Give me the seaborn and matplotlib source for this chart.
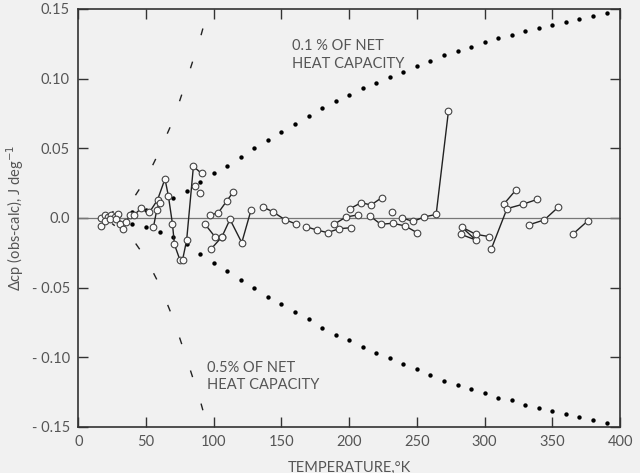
import matplotlib
matplotlib.use("Agg")
import matplotlib.pyplot as plt
import pandas as pd
import seaborn as sns

# Open circles: connected experimental runs (temperature K, delta Cp J/deg)
run_id = [1, 1, 1, 1, 1, 1,
          2, 2, 2, 2, 2, 2,
          3, 3, 3, 3, 3, 3, 3, 3, 3, 3, 3, 3, 3, 3, 3,
          4, 4, 4,
          5, 5, 5, 5,
          6, 6, 6, 6, 6, 6,
          7, 7,
          8, 8, 8, 8,
          9, 9, 9, 9, 9,
          10, 10, 10,
          11, 11, 11, 11,
          12, 12, 12, 12, 12,
          13, 13, 13, 13, 13,
          14, 14, 14, 14, 14,
          15, 15,
          16, 16, 16, 16,
          17, 17, 17,
          18, 18]
run_temp = [17, 19.5, 22, 24.5, 27, 29.5,
            17, 20, 23.5, 27.5, 31, 33,
            35.5, 38, 41, 46.5, 52.5, 58.5, 64, 66.5, 69.5, 71, 75, 77, 80, 85, 91,
            55.5, 58, 60,
            97.3, 103.4, 109.6, 114.5,
            93.6, 101, 106, 112, 120.7, 127.5,
            97.8, 106,
            136.2, 143.6, 152.5, 160.5,
            168, 176, 184, 192.5, 201.4,
            188.8, 197.7, 206.3,
            200.7, 208.8, 216.2, 224,
            215.4, 223.3, 232.2, 241.3, 250,
            239.3, 247.4, 255.3, 264.2, 273.3,
            282.4, 293.5,
            283, 293.5, 303.5, 314, 323,
            305, 316.5, 328, 339,
            332.4, 344, 354.5,
            365, 376]
run_dcp = [0.000, 0.002, 0.001, 0.002, 0.001, 0.003,
           -0.006, -0.002, -0.001, -0.001, -0.004, -0.008,
           -0.003, 0.002, 0.002, 0.007, 0.004, 0.013, 0.028, 0.016, -0.004, -0.019, -0.030, -0.030, -0.016, 0.037, 0.032,
           -0.0065, 0.006, 0.011,
           0.002, 0.0038, 0.0122, 0.0187,
           -0.0045, -0.0136, -0.0136, -0.001, -0.0177, 0.0055,
           -0.0225, -0.0136,
           0.0079, 0.0045, -0.0012, -0.0042,
           -0.0062, -0.0086, -0.0105, -0.0077, -0.007,
           -0.0045, 0.0007, 0.0022,
           0.0067, 0.011, 0.0093, 0.0146,
           0.0014, -0.0045, -0.0038, -0.0057, -0.0105,
           -0.0002, -0.0024, 0.0007, 0.0026, 0.0768,
           -0.0117, -0.0158,
           -0.0065, -0.0117, -0.0134, 0.0098, 0.020,
           -0.022, 0.0067, 0.0098, 0.0134,
           -0.005, -0.0014, 0.0079,
           -0.0117, -0.0022]

# Open circles not joined to a run
single_temp = [86, 90, 231.5]
single_dcp = [0.023, 0.018, 0.0045]

# Dotted envelope: 0.1 % of net heat capacity
dot_temp = [30, 40, 50, 60, 70, 80, 90, 100, 110, 120, 130, 140, 150, 160, 170,
            180, 190, 200, 210, 220, 230, 240, 250, 260, 270, 280, 290, 300,
            310, 320, 330, 340, 350, 360, 370, 380, 390]
dot_upper = [0.002, 0.004, 0.006, 0.0098, 0.014, 0.0194, 0.0256, 0.032, 0.0375, 0.0438,
             0.050, 0.056, 0.062, 0.0675, 0.073, 0.079, 0.084, 0.088, 0.093, 0.097,
             0.101, 0.105, 0.109, 0.1125, 0.117, 0.120, 0.123, 0.126, 0.129, 0.131,
             0.134, 0.1365, 0.1385, 0.141, 0.1426, 0.145, 0.147]
dot_lower = [-0.003, -0.004, -0.0065, -0.010, -0.014, -0.019, -0.026, -0.0325, -0.038, -0.0443,
             -0.0505, -0.0565, -0.062, -0.0675, -0.0727, -0.0787, -0.0838, -0.0876, -0.0926, -0.0967,
             -0.1007, -0.1046, -0.1086, -0.1125, -0.117, -0.1199, -0.123, -0.1256, -0.129, -0.1307,
             -0.134, -0.1366, -0.1385, -0.1407, -0.1426, -0.1448, -0.147]

# Dashed envelope: 0.5 % of net heat capacity (listed from the top end down)
dash_temp = [92, 90, 80, 70, 60, 50, 40, 30, 25]
dash_upper = [0.136, 0.129, 0.099, 0.070, 0.048, 0.028, 0.013, 0.008, 0.004]
dash_lower = [-0.138, -0.131, -0.101, -0.072, -0.048, -0.029, -0.015, -0.008, -0.004]

xticks = [0, 50, 100, 150, 200, 250, 300, 350, 400]
yticks = [-0.15, -0.10, -0.05, 0.0, 0.05, 0.10, 0.15]
ytick_labels = ["- 0.15", "- 0.10", "- 0.05", "0.0", "0.05", "0.10", "0.15"]

bg = "#f1f1f1"
ink = "#222222"
txt = "#555555"

sns.set_style("ticks")
plt.rcParams["font.family"] = ["Lato", "DejaVu Sans"]

fig = plt.figure(figsize=(6.4, 4.73), dpi=100)
fig.set_facecolor(bg)
ax = fig.add_axes([0.1223, 0.0973, 0.8466, 0.8837])
ax.set_facecolor(bg)

ax.axhline(0, color="#777777", lw=0.9, zorder=1)

runs = pd.DataFrame({"run": run_id, "T": run_temp, "dcp": run_dcp})
sns.lineplot(data=runs, x="T", y="dcp", units="run", estimator=None, sort=False,
             color=ink, lw=1.0, marker="o", markersize=4.8, markerfacecolor="#fafafa",
             markeredgecolor="#444444", markeredgewidth=0.8, ax=ax, zorder=3)
ax.plot(single_temp, single_dcp, ls="none", marker="o", ms=4.8, mfc="#fafafa",
        mec="#444444", mew=0.8, zorder=3)

dots = pd.DataFrame({"T": dot_temp * 2, "dcp": dot_upper + dot_lower})
sns.scatterplot(data=dots, x="T", y="dcp", color="black", s=10, linewidth=0, ax=ax, zorder=2)

for vals in (dash_upper, dash_lower):
    ax.plot(dash_temp, vals, color=ink, lw=1.0, dashes=(5, 20), zorder=2)

ax.text(158, 0.117, "0.1 % OF NET\nHEAT CAPACITY", fontsize=10.5, color=txt,
        va="center", ha="left", linespacing=1.3)
ax.text(95, -0.114, "0.5% OF NET\nHEAT CAPACITY", fontsize=10.5, color=txt,
        va="center", ha="left", linespacing=1.3)

ax.set_xlim(0, 400)
ax.set_ylim(-0.15, 0.15)
ax.set_xticks(xticks)
ax.set_xticklabels([str(v) for v in xticks])
ax.set_yticks(yticks)
ax.set_yticklabels(ytick_labels)
ax.tick_params(direction="in", length=7, width=1, colors="#333333", labelcolor=txt,
               labelsize=10.5, top=True, right=True, pad=6)
for s in ax.spines.values():
    s.set_color("#333333")
    s.set_linewidth(1.2)

ax.set_xlabel("TEMPERATURE,°K", fontsize=10.5, color=txt, labelpad=8)
ax.set_ylabel("Δcp (obs-calc), J deg$^{-1}$", fontsize=10.5, color=txt, labelpad=4)

fig.savefig("out.png", dpi=100, facecolor=bg)
